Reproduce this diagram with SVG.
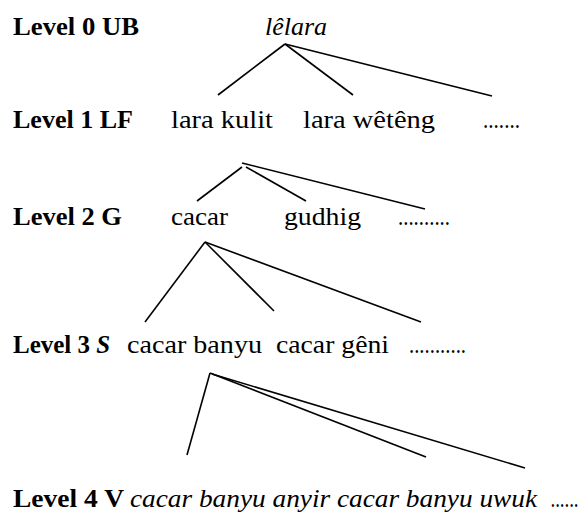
<svg xmlns="http://www.w3.org/2000/svg" width="587" height="513" viewBox="0 0 587 513">
<style>
text{font-family:"Liberation Serif","DejaVu Serif",serif;font-size:25px;fill:#000}
.b{font-weight:bold}
.i{font-style:italic}
.c line{stroke:#000;stroke-width:1.6;stroke-linecap:butt}
</style>
<rect width="587" height="513" fill="#fff"/>
<g id="labels">
<text class="b" x="13" y="35" textLength="126" lengthAdjust="spacingAndGlyphs">Level 0 UB</text>
<text class="b" x="13" y="128" textLength="120" lengthAdjust="spacingAndGlyphs">Level 1 LF</text>
<text class="b" x="13" y="225" textLength="109" lengthAdjust="spacingAndGlyphs">Level 2 G</text>
<text x="13" y="353"><tspan class="b">Level 3 </tspan><tspan class="b i">S</tspan></text>
<text class="b" x="13" y="507" textLength="111" lengthAdjust="spacingAndGlyphs">Level 4 V</text>
</g>
<g id="n0"><text class="i" x="265" y="35" textLength="62" lengthAdjust="spacingAndGlyphs">lêlara</text></g>
<g id="n1a"><text x="171" y="128" textLength="102" lengthAdjust="spacingAndGlyphs">lara kulit</text></g>
<g id="n1b"><text x="303" y="128" textLength="132" lengthAdjust="spacingAndGlyphs">lara wêtêng</text></g>
<g id="n1c"><text x="483" y="128" textLength="37" lengthAdjust="spacingAndGlyphs">.......</text></g>
<g id="n2a"><text x="171" y="225" textLength="57" lengthAdjust="spacingAndGlyphs">cacar</text></g>
<g id="n2b"><text x="284" y="225" textLength="77" lengthAdjust="spacingAndGlyphs">gudhig</text></g>
<g id="n2c"><text x="398" y="225" textLength="52" lengthAdjust="spacingAndGlyphs">..........</text></g>
<g id="n3a"><text x="127" y="353" textLength="135" lengthAdjust="spacingAndGlyphs">cacar banyu</text></g>
<g id="n3b"><text x="276" y="353" textLength="113" lengthAdjust="spacingAndGlyphs">cacar gêni</text></g>
<g id="n3c"><text x="409" y="353" textLength="57" lengthAdjust="spacingAndGlyphs">...........</text></g>
<g id="n4a"><text class="i" x="130" y="507" textLength="407" lengthAdjust="spacingAndGlyphs">cacar banyu anyir cacar banyu uwuk</text></g>
<g id="n4c"><text class="i" x="551" y="507" textLength="28" lengthAdjust="spacingAndGlyphs">......</text></g>
<g id="connectors" class="c">
<line x1="285" y1="44" x2="218" y2="95"/>
<line x1="285" y1="44" x2="353" y2="95"/>
<line x1="285" y1="44" x2="492" y2="96"/>
<line x1="242" y1="167" x2="197" y2="201"/>
<line x1="246" y1="167" x2="306" y2="201"/>
<line x1="242" y1="163" x2="425" y2="209"/>
<line x1="205" y1="242" x2="145" y2="322"/>
<line x1="205" y1="242" x2="274" y2="311"/>
<line x1="205" y1="242" x2="421" y2="322"/>
<line x1="210" y1="373" x2="187" y2="455"/>
<line x1="210" y1="373" x2="426" y2="457"/>
<line x1="212" y1="374" x2="525" y2="468"/>
</g>
</svg>
